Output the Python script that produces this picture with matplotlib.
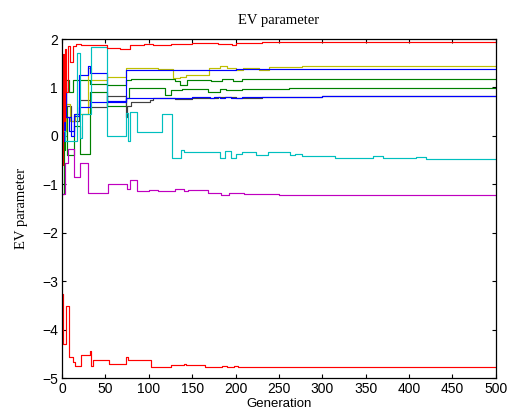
import matplotlib
matplotlib.use("Agg")
import matplotlib.pyplot as plt

# change points (generation, value); each run is a step trace
red_top_gen = [0, 1, 2, 3, 5, 7, 9, 12, 16, 22, 32, 52, 67, 78, 95, 105, 125, 150, 180, 196, 200, 230]
red_top_val = [-0.6, 1.7, 0.3, 1.8, 0.9, 1.85, 1.52, 1.85, 1.89, 1.88, 1.88, 1.82, 1.8, 1.87, 1.89, 1.88, 1.9, 1.91, 1.9, 1.87, 1.92, 1.93]

red_bot_gen = [0, 1, 4, 8, 12, 15, 22, 32, 33, 36, 54, 74, 76, 103, 125, 140, 143, 165, 172, 184, 190, 198, 203]
red_bot_val = [-3.27, -4.3, -3.52, -4.57, -4.67, -4.75, -4.52, -4.45, -4.75, -4.63, -4.7, -4.56, -4.63, -4.78, -4.73, -4.7, -4.73, -4.77, -4.78, -4.74, -4.78, -4.74, -4.78]

cyan_gen = [0, 3, 17, 21, 23, 33, 52, 74, 76, 78, 86, 115, 127, 137, 140, 182, 188, 195, 201, 207, 224, 237, 263, 268, 277, 315, 358, 370, 408, 420]
cyan_val = [0.1, -0.1, 1.71, -0.05, 0.45, 1.83, 0.0, 0.47, -0.1, 0.5, 0.08, 0.45, -0.45, -0.3, -0.33, -0.45, -0.32, -0.45, -0.38, -0.33, -0.4, -0.34, -0.4, -0.38, -0.42, -0.45, -0.42, -0.45, -0.43, -0.47]

magenta_gen = [0, 3, 7, 14, 21, 30, 53, 75, 78, 86, 100, 110, 130, 140, 145, 168, 183, 192, 210, 250]
magenta_val = [-1.2, -0.56, -0.27, -0.84, -0.56, -1.17, -0.99, -1.1, -0.9, -1.13, -1.11, -1.14, -1.1, -1.13, -1.12, -1.17, -1.21, -1.18, -1.2, -1.22]

yellow_gen = [0, 2, 5, 9, 15, 30, 33, 52, 74, 80, 110, 128, 136, 143, 169, 182, 190, 200, 208, 227, 238, 277]
yellow_val = [0.6, 0.1, 0.65, 0.3, 0.45, 1.4, 1.15, 1.21, 1.4, 1.41, 1.38, 1.19, 1.22, 1.25, 1.41, 1.44, 1.41, 1.36, 1.41, 1.37, 1.42, 1.44]

green_a_gen = [0, 2, 4, 8, 12, 21, 32, 52, 74, 80, 130, 136, 144, 172, 184, 197, 207]
green_a_val = [-1.2, 0.2, 1.15, 0.9, 1.15, 1.15, 1.07, 1.05, 1.15, 1.17, 1.13, 1.05, 1.15, 1.13, 1.17, 1.14, 1.17]

green_b_gen = [0, 3, 6, 14, 21, 32, 52, 74, 77, 119, 126, 138, 168, 182, 189, 207, 262]
green_b_val = [-0.3, 0.6, -0.4, 0.2, -0.38, 0.9, 0.62, 0.78, 0.98, 0.85, 0.95, 0.96, 0.91, 0.96, 0.95, 0.97, 0.99]

blue_a_gen = [0, 2, 5, 10, 14, 20, 30, 32, 52, 74, 80, 200]
blue_a_val = [-0.1, 1.13, 0.4, 0.0, 0.41, 1.26, 1.45, 1.3, 0.72, 1.36, 1.37, 1.38]

blue_b_gen = [0, 3, 8, 14, 20, 32, 52, 74, 150, 170, 175, 182, 188, 195, 207, 300]
blue_b_val = [0.0, 0.4, 0.1, 0.45, 0.6, 0.7, 0.7, 0.78, 0.8, 0.78, 0.81, 0.78, 0.81, 0.78, 0.81, 0.82]

black_gen = [0, 1, 5, 10, 20, 32, 52, 74, 75, 80, 101, 105, 130, 150, 180, 200, 230, 300]
black_val = [0.5, 0.98, 0.62, 0.3, 0.74, 0.6, 0.82, 0.4, 0.62, 0.71, 0.75, 0.79, 0.76, 0.78, 0.8, 0.78, 0.81, 0.82]

last_gen = 500

# MATLAB default colour letters
series = [
    (green_a_gen, green_a_val, (0, 0.5, 0)),
    (green_b_gen, green_b_val, (0, 0.5, 0)),
    (black_gen, black_val, (0.25, 0.25, 0.25)),
    (yellow_gen, yellow_val, (0.75, 0.75, 0)),
    (blue_b_gen, blue_b_val, (0, 0, 1)),
    (blue_a_gen, blue_a_val, (0, 0, 1)),
    (cyan_gen, cyan_val, (0, 0.75, 0.75)),
    (magenta_gen, magenta_val, (0.75, 0, 0.75)),
    (red_bot_gen, red_bot_val, (1, 0, 0)),
    (red_top_gen, red_top_val, (1, 0, 0)),
]

plt.rcParams['font.family'] = ['Liberation Sans', 'DejaVu Sans']

fig = plt.figure(figsize=(5.09, 4.11), dpi=100)
ax = fig.add_axes([0.122, 0.080, 0.852, 0.825])

for gens, vals, col in series:
    ax.plot(gens + [last_gen], vals + [vals[-1]], drawstyle='steps-post',
            color=col, linewidth=0.85)

ax.set_xlim(0, 500)
ax.set_ylim(-5, 2)
ax.set_xticks(range(0, 501, 50))
ax.set_yticks(range(-5, 3))
ax.tick_params(direction='in', top=True, right=True, length=3, width=0.8,
               labelsize=10, pad=3)
for s in ax.spines.values():
    s.set_linewidth(0.9)

ax.set_title('EV parameter', family='Liberation Serif', fontsize=10.5, pad=11)
ax.set_ylabel('EV parameter', family='Liberation Serif', fontsize=10.5, labelpad=10)
ax.set_xlabel('Generation', fontsize=9.5, labelpad=1)

fig.savefig('out.png', dpi=100)
